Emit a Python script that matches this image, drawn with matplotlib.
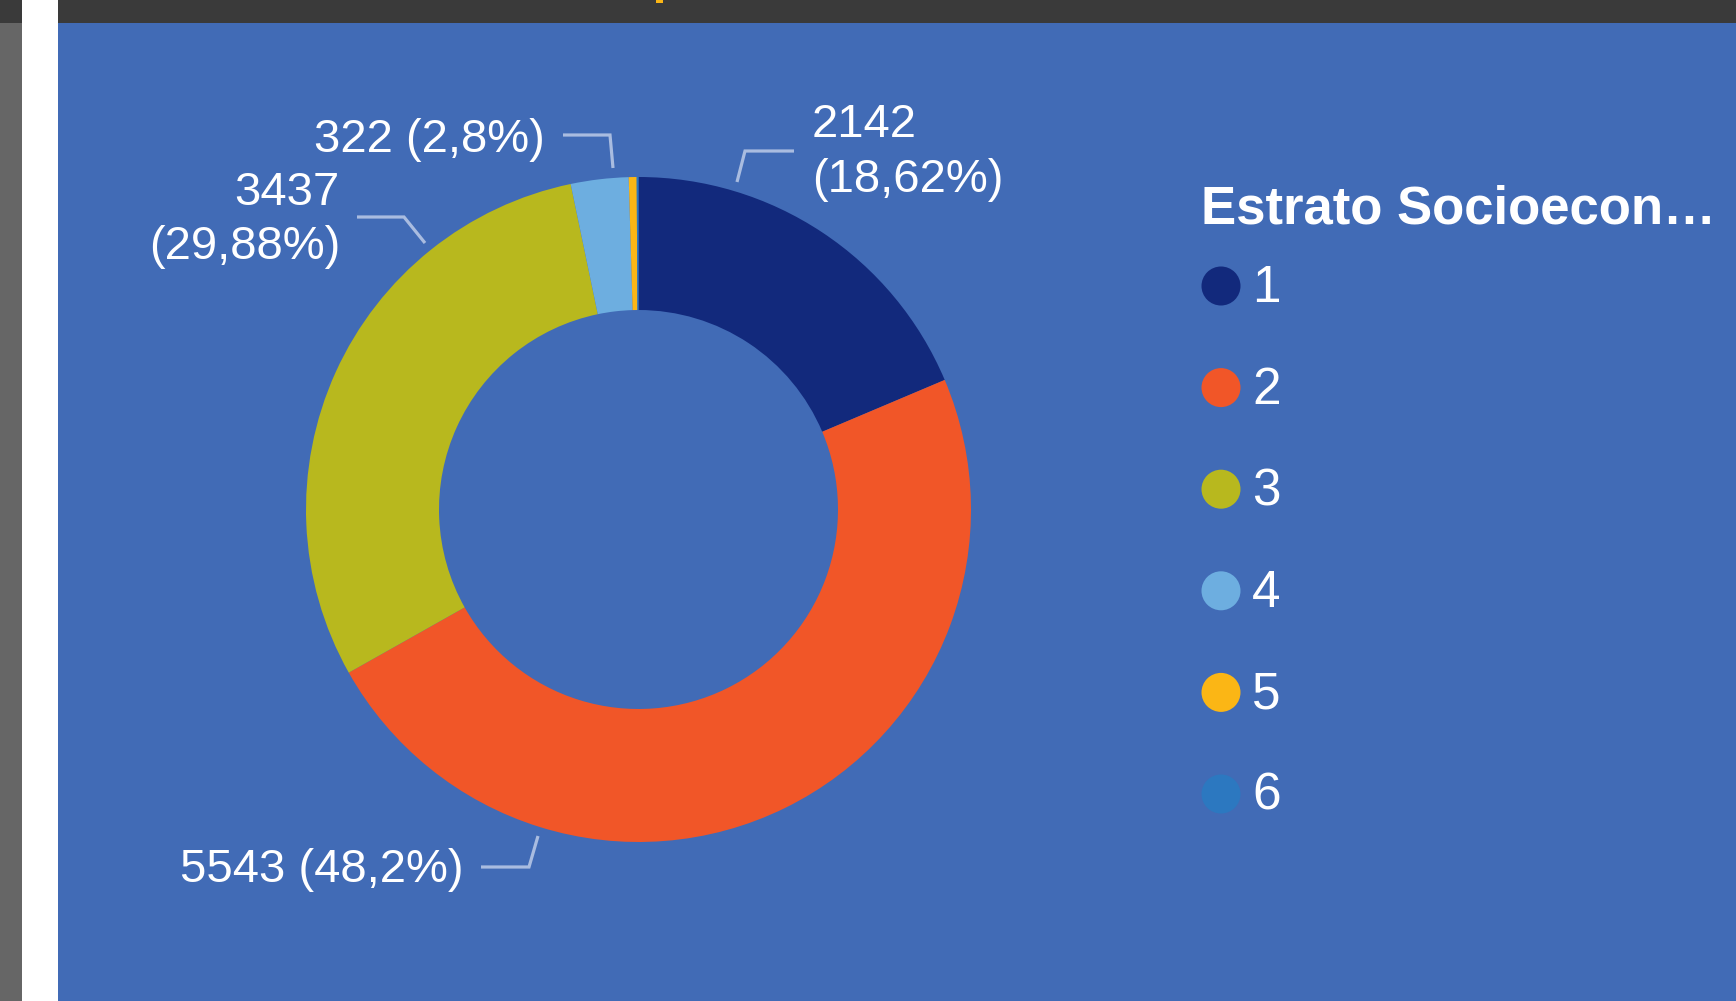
import matplotlib
matplotlib.use('Agg')
import matplotlib.pyplot as plt
from matplotlib.patches import Rectangle, Circle

# ---- data ----
categories = ['1', '2', '3', '4', '5', '6']
values = [2142, 5543, 3437, 322, 44, 10]
percent_text = ['18,62%', '48,2%', '29,88%', '2,8%', None, None]
colors = ['#12297C', '#F15628', '#B8B81E', '#6DAEE0', '#FBB615', '#2C78C0']
legend_title = 'Estrato Socioecon…'

FONT = 'Liberation Sans'
BG = '#416BB6'
W, H = 1736, 1001

fig = plt.figure(figsize=(W / 100, H / 100), dpi=100)
ax = fig.add_axes([0, 0, 1, 1])
fig.patch.set_facecolor(BG)

# screenshot frame
ax.add_patch(Rectangle((0, 0), 22, H, color='#666666', lw=0))
ax.add_patch(Rectangle((0, 0), 22, 23, color='#3A3A3A', lw=0))
ax.add_patch(Rectangle((22, 0), 36, H, color='white', lw=0))
ax.add_patch(Rectangle((58, 0), W - 58, 23, color='#3A3A3A', lw=0))
ax.add_patch(Rectangle((58, 23), W - 58, H - 23, color=BG, lw=0))
ax.add_patch(Rectangle((656, 0), 7, 2.5, color='#FBB615', lw=0))

# donut
cx, cy, R = 638.5, 509.5, 332.5
ax.pie(values, colors=colors, center=(cx, cy), radius=R,
       startangle=-90, counterclock=True,
       wedgeprops=dict(width=R * 0.4, edgecolor='none', linewidth=0))

ax.set_xlim(0, W)
ax.set_ylim(H, 0)
ax.set_aspect('equal')
ax.axis('off')

lab = dict(color='white', fontsize=34, family=FONT)
line_kw = dict(color='#A9BCE0', lw=2.3, solid_capstyle='butt', solid_joinstyle='miter')

# label 1
ax.text(812, 137, f"{values[0]}", ha='left', va='baseline', **lab)
ax.text(812, 192, f"({percent_text[0]})", ha='left', va='baseline', **lab)
ax.plot([737, 745, 794], [182, 151, 151], **line_kw)

# label 4
ax.text(545, 152, f"{values[3]} ({percent_text[3]})", ha='right', va='baseline', **lab)
ax.plot([563, 610, 613], [135, 135, 168], **line_kw)

# label 3
ax.text(339, 205, f"{values[2]}", ha='right', va='baseline', **lab)
ax.text(340, 259, f"({percent_text[2]})", ha='right', va='baseline', **lab)
ax.plot([357, 404, 425], [217, 217, 243], **line_kw)

# label 2
ax.text(463, 882, f"{values[1]} ({percent_text[1]})", ha='right', va='baseline', **lab)
ax.plot([481, 529, 538], [867, 867, 836], **line_kw)

# legend
ax.text(1201, 223, legend_title, ha='left', va='baseline', color='white',
        fontsize=38, fontweight='bold', family=FONT)
for i, (c, col) in enumerate(zip(categories, colors)):
    yc = 286 + 101.6 * i
    ax.add_patch(Circle((1221, yc), 19.5, color=col, lw=0))
    ax.text(1252, yc + 16, c, ha='left', va='baseline', color='white',
            fontsize=37, family=FONT)

fig.savefig('out.png', dpi=100, facecolor=fig.get_facecolor())
